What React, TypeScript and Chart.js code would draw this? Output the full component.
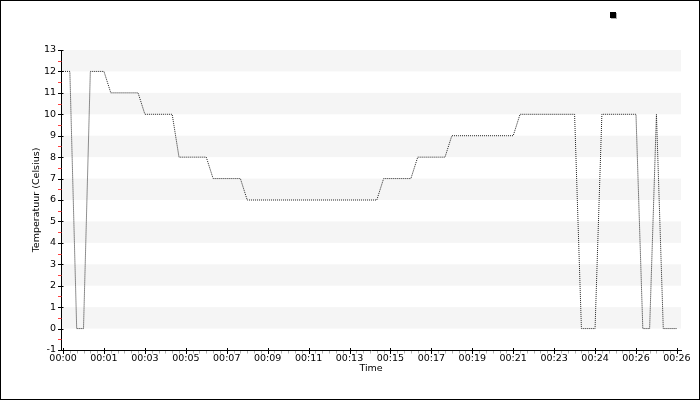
import React, { useEffect, useRef } from "react";
import { Chart, registerables } from "chart.js";

Chart.register(...registerables);

// Temperature samples (Celsius), one per sample step along the time axis
const sampleTemps: number[] = [
  12, 12, 0, 0, 12, 12, 12,
  11, 11, 11, 11, 11,
  10, 10, 10, 10, 10,
  8, 8, 8, 8, 8,
  7, 7, 7, 7, 7,
  6, 6, 6, 6, 6, 6, 6, 6, 6, 6, 6, 6, 6, 6, 6, 6, 6, 6, 6, 6,
  7, 7, 7, 7, 7,
  8, 8, 8, 8, 8,
  9, 9, 9, 9, 9, 9, 9, 9, 9, 9,
  10, 10, 10, 10, 10, 10, 10, 10, 10,
  0, 0, 0,
  10, 10, 10, 10, 10, 10,
  0, 0,
  10,
  0, 0, 0,
];

// Time axis labels (one major tick every 6 samples)
const xTickLabels: string[] = [
  "00:00", "00:01", "00:03", "00:05", "00:07", "00:09", "00:11", "00:13",
  "00:15", "00:17", "00:19", "00:21", "00:23", "00:24", "00:26", "00:26",
];
const samplesPerMajor = 6;

const yMin = -1;
const yMax = 13;

const FONT = "'DejaVu Sans', sans-serif";

export default function App() {
  const ref = useRef<HTMLCanvasElement | null>(null);

  useEffect(() => {
    if (!ref.current) return;

    const bandsPlugin = {
      id: "bands",
      beforeDatasetsDraw(chart: any) {
        const { ctx, chartArea, scales } = chart;
        const y = scales.y;
        ctx.save();
        ctx.fillStyle = "#f5f5f5";
        for (let v = 0; v < yMax; v += 2) {
          const top = y.getPixelForValue(v + 1);
          const bot = y.getPixelForValue(v);
          ctx.fillRect(chartArea.left + 1, top, chartArea.right - chartArea.left - 1, bot - top);
        }
        ctx.restore();
      },
    };

    const ticksPlugin = {
      id: "axisTicks",
      afterDraw(chart: any) {
        const { ctx, chartArea, scales } = chart;
        const x = scales.x;
        const y = scales.y;
        const ax = Math.round(chartArea.left) + 0.5;
        const ay = Math.round(chartArea.bottom) + 0.5;
        ctx.save();
        ctx.lineWidth = 1;
        // y minor (red) at half values
        ctx.strokeStyle = "#ff4040";
        for (let v = yMin + 0.5; v < yMax; v += 1) {
          const py = Math.round(y.getPixelForValue(v)) + 0.5;
          ctx.beginPath();
          ctx.moveTo(ax - 3.5, py);
          ctx.lineTo(ax, py);
          ctx.stroke();
        }
        // y major
        ctx.strokeStyle = "#000";
        for (let v = yMin; v <= yMax; v += 1) {
          const py = Math.round(y.getPixelForValue(v)) + 0.5;
          ctx.beginPath();
          ctx.moveTo(ax - 3.5, py);
          ctx.lineTo(ax + 2, py);
          ctx.stroke();
        }
        // x minor (grey) every sample
        ctx.strokeStyle = "#b0b0b0";
        for (let i = 0; i < sampleTemps.length; i++) {
          if (i % samplesPerMajor === 0) continue;
          const px = Math.round(x.getPixelForValue(i)) + 0.5;
          ctx.beginPath();
          ctx.moveTo(px, ay + 0.5);
          ctx.lineTo(px, ay + 3);
          ctx.stroke();
        }
        // x major
        ctx.strokeStyle = "#000";
        for (let k = 0; k < xTickLabels.length; k++) {
          const px = Math.round(x.getPixelForValue(k * samplesPerMajor)) + 0.5;
          ctx.beginPath();
          ctx.moveTo(px, ay - 2.5);
          ctx.lineTo(px, ay + 3.5);
          ctx.stroke();
        }
        ctx.restore();
      },
    };

    const legendPlugin = {
      id: "legendMarker",
      afterDraw(chart: any) {
        const { ctx, chartArea } = chart;
        const lx = Math.round(chartArea.right - 71);
        const ly = 11;
        ctx.save();
        ctx.fillStyle = "#b0b0b0";
        ctx.fillRect(lx + 1, ly + 1, 6, 6);
        ctx.fillStyle = "#000";
        ctx.fillRect(lx, ly, 6, 6);
        ctx.restore();
      },
    };

    const chart = new Chart(ref.current, {
      type: "line",
      data: {
        datasets: [
          {
            label: "",
            data: sampleTemps.map((t, i) => ({ x: i, y: t })),
            borderColor: "#222",
            borderWidth: 1,
            borderDash: [1, 1],
            pointRadius: 0,
            tension: 0,
            fill: false,
          },
        ],
      },
      options: {
        animation: false,
        responsive: true,
        maintainAspectRatio: false,
        layout: { padding: { top: 49, right: 18, left: 0, bottom: 0 } },
        plugins: {
          legend: { display: false },
          tooltip: { enabled: false },
        },
        scales: {
          x: {
            type: "linear",
            min: -0.3,
            max: 90.6,
            grid: { display: false, drawTicks: false, tickLength: 0 },
            border: { display: true, color: "#000", width: 1 },
            afterBuildTicks(scale: any) {
              scale.ticks = xTickLabels.map((_, k) => ({ value: k * samplesPerMajor }));
            },
            afterFit(scale: any) {
              scale.height = 49;
            },
            ticks: {
              autoSkip: false,
              maxRotation: 0,
              minRotation: 0,
              padding: 3,
              color: "#000",
              font: { family: FONT, size: 9.5 },
              callback: (value: any) => xTickLabels[Math.round(Number(value) / samplesPerMajor)] ?? "",
            },
            title: {
              display: true,
              text: "Time",
              color: "#000",
              font: { family: FONT, size: 9.5 },
              padding: { top: 0, bottom: 25 },
            },
          },
          y: {
            type: "linear",
            min: yMin,
            max: yMax,
            grid: { display: false, drawTicks: false, tickLength: 0 },
            border: { display: true, color: "#000", width: 1 },
            afterFit(scale: any) {
              scale.width = 60;
            },
            ticks: {
              stepSize: 1,
              padding: 5,
              color: "#000",
              font: { family: FONT, size: 9.5 },
            },
            title: {
              display: true,
              text: "Temperatuur (Celsius)",
              color: "#000",
              font: { family: FONT, size: 9.5 },
              padding: { top: 30, bottom: 0 },
            },
          },
        },
      },
      plugins: [bandsPlugin, ticksPlugin, legendPlugin],
    } as any);

    return () => chart.destroy();
  }, []);

  return (
    <div
      style={{
        position: "fixed",
        left: 0,
        top: 0,
        width: 700,
        height: 400,
        boxSizing: "border-box",
        border: "1px solid #000",
        background: "#fff",
      }}
    >
      <div style={{ position: "relative", width: 698, height: 398 }}>
        <canvas ref={ref} />
      </div>
    </div>
  );
}
